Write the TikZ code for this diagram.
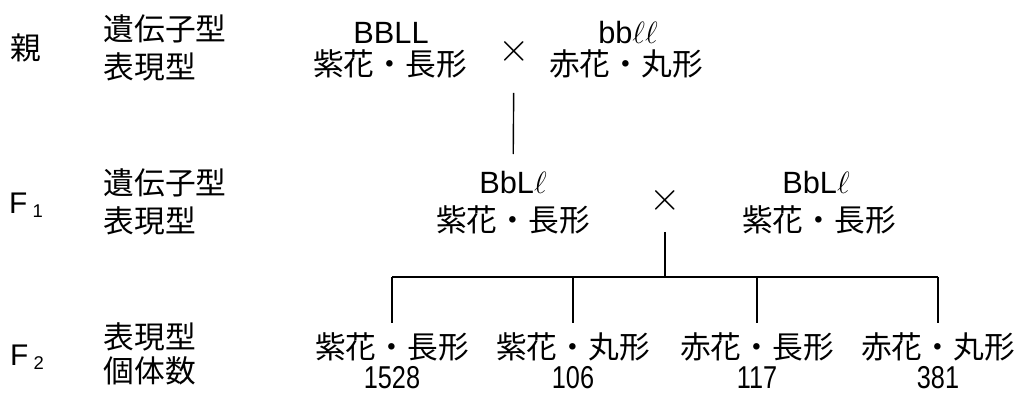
\RequirePackage{fix-cm}
\documentclass[tikz,border=0pt]{standalone}
\usepackage{fontspec}
\setmainfont{Liberation Sans}
\newfontfamily\jpfont{Noto Sans CJK JP}
\newfontfamily\narrowfont[FakeStretch=0.8]{Liberation Sans}
\newcommand{\fsub}[1]{\hspace{3pt}\raisebox{-2pt}{\fontsize{10.5}{11}\selectfont #1}}
\tikzset{
  jtxt/.style={inner sep=0pt, font=\jpfont\fontsize{17.5}{20}\selectfont},
  gtxt/.style={inner sep=0pt, font=\fontsize{17.5}{20}\selectfont},
  ntxt/.style={inner sep=0pt, font=\narrowfont\fontsize{18}{20}\selectfont},
  rowlbl/.style={jtxt, anchor=west},
  flbl/.style={inner sep=0pt, font=\fontsize{17}{19}\selectfont},
  crossmark/.style={inner sep=0pt, font=\fontsize{23}{23}\selectfont},
}
\begin{document}
\begin{tikzpicture}[x=0.02cm, y=-0.02cm, line width=0.8pt]
  \useasboundingbox (0,0) rectangle (1015,394);
  % row labels
  \node[jtxt] (oya) at (26,48) {親};
  \node[rowlbl] (pgl) at (103,29) {遺伝子型};
  \node[rowlbl] (ppl) at (103,67) {表現型};
  \node[flbl] (fone) at (26,205) {F\fsub{1}};
  \node[rowlbl] (fagl) at (103,183) {遺伝子型};
  \node[rowlbl] (fapl) at (103,221) {表現型};
  \node[flbl] (ftwo) at (27,357) {F\fsub{2}};
  \node[rowlbl] (fbpl) at (103,337) {表現型};
  \node[rowlbl] (fbnl) at (103,371) {個体数};
  % parents
  \node[gtxt] (pag) at (391,33) {BBLL};
  \node[jtxt] (pap) at (390,64) {紫花・長形};
  \node[crossmark] (cx1) at (514,51) {$\times$};
  \node[gtxt] (pbg) at (628,33) {bb$\ell\ell$};
  \node[jtxt] (pbp) at (626,64) {赤花・丸形};
  % F1
  \node[gtxt] (fag) at (513,183) {BbL$\ell$};
  \node[jtxt] (fap) at (513,220) {紫花・長形};
  \node[crossmark] (cx2) at (665,200) {$\times$};
  \node[gtxt] (fbg) at (816,183) {BbL$\ell$};
  \node[jtxt] (fbp) at (819,220) {紫花・長形};
  \draw[shorten <=0.84cm, shorten >=0.58cm] (cx1.center) -- (fag.center);
  % F2
  \foreach \x/\ph/\n [count=\i] in {392/紫花・長形/1528, 573/紫花・丸形/106,
                                    757/赤花・長形/117, 938/赤花・丸形/381} {
    \node[jtxt] (ph\i) at (\x,347) {\ph};
    \node[ntxt] (num\i) at (\x,378) {\n};
  }
  \coordinate (bar) at (665,277);
  \draw[shorten <=0.64cm] (cx2.center) -- (bar);
  \draw (bar -| ph1) -- (bar -| ph4);
  \foreach \i in {1,...,4}
    \draw[shorten >=0.48cm] (bar -| ph\i) -- (ph\i.center);
\end{tikzpicture}
\end{document}
